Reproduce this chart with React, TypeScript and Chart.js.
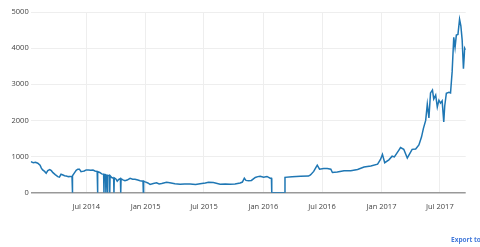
import React, { useEffect, useRef } from "react";
import { Chart, registerables } from "chart.js";

Chart.register(...registerables);

const dates: string[] = [
  "2014-01-10", "2014-01-18", "2014-01-25", "2014-02-01", "2014-02-08", "2014-02-12", "2014-02-16",
  "2014-02-22", "2014-02-27", "2014-03-04", "2014-03-10", "2014-03-15", "2014-03-20", "2014-03-27",
  "2014-04-04", "2014-04-09", "2014-04-14", "2014-04-20", "2014-04-25", "2014-04-30", "2014-05-07",
  "2014-05-12", "2014-05-18", "2014-05-19", "2014-05-20", "2014-05-25", "2014-05-31", "2014-06-05",
  "2014-06-10", "2014-06-15", "2014-06-20", "2014-06-25", "2014-07-01", "2014-07-08", "2014-07-15",
  "2014-07-22", "2014-07-28", "2014-08-04", "2014-08-05", "2014-08-06", "2014-08-12", "2014-08-18",
  "2014-08-24", "2014-08-25", "2014-08-26", "2014-08-30", "2014-08-31", "2014-09-01", "2014-09-04",
  "2014-09-05", "2014-09-06", "2014-09-11", "2014-09-12", "2014-09-13", "2014-09-18", "2014-09-24",
  "2014-09-25", "2014-09-26", "2014-10-01", "2014-10-05", "2014-10-09", "2014-10-15", "2014-10-16",
  "2014-10-17", "2014-10-23", "2014-10-29", "2014-11-05", "2014-11-14", "2014-11-22", "2014-11-29",
  "2014-12-08", "2014-12-15", "2014-12-24", "2014-12-25", "2014-12-26", "2014-12-31", "2015-01-08",
  "2015-01-15", "2015-01-25", "2015-02-04", "2015-02-12", "2015-02-20", "2015-03-07", "2015-03-17",
  "2015-04-02", "2015-04-18", "2015-05-02", "2015-05-19", "2015-06-05", "2015-06-19", "2015-07-05",
  "2015-07-15", "2015-07-30", "2015-08-20", "2015-09-05", "2015-09-20", "2015-10-05", "2015-10-21",
  "2015-10-28", "2015-11-03", "2015-11-08", "2015-11-16", "2015-11-25", "2015-12-07", "2015-12-15",
  "2015-12-22", "2016-01-02", "2016-01-12", "2016-01-22", "2016-01-26", "2016-01-27", "2016-03-07",
  "2016-03-08", "2016-03-30", "2016-04-25", "2016-05-20", "2016-05-26", "2016-06-05", "2016-06-12",
  "2016-06-16", "2016-06-23", "2016-07-06", "2016-07-17", "2016-07-28", "2016-08-02", "2016-08-17",
  "2016-09-07", "2016-09-28", "2016-10-19", "2016-11-08", "2016-11-29", "2016-12-20", "2016-12-29",
  "2017-01-04", "2017-01-11", "2017-01-24", "2017-02-03", "2017-02-10", "2017-02-24", "2017-03-01",
  "2017-03-11", "2017-03-22", "2017-03-27", "2017-04-06", "2017-04-17", "2017-04-27", "2017-05-05",
  "2017-05-11", "2017-05-18", "2017-05-23", "2017-05-28", "2017-06-02", "2017-06-08", "2017-06-12",
  "2017-06-18", "2017-06-23", "2017-06-28", "2017-07-03", "2017-07-08", "2017-07-13", "2017-07-16",
  "2017-07-21", "2017-07-29", "2017-08-03", "2017-08-08", "2017-08-13", "2017-08-17", "2017-08-21",
  "2017-08-26", "2017-08-31", "2017-09-04", "2017-09-08", "2017-09-12", "2017-09-16", "2017-09-19",
];

const prices: number[] = [
  860, 830, 840, 815, 760, 680, 630,
  590, 540, 610, 640, 610, 555, 500,
  445, 430, 510, 490, 470, 460, 445,
  450, 445, 0, 470, 540, 620, 650,
  650, 580, 590, 600, 630, 630, 620,
  625, 600, 585, 0, 585, 560, 520,
  510, 0, 505, 500, 0, 480, 480,
  0, 480, 475, 0, 470, 420, 400,
  0, 410, 380, 320, 360, 390, 0,
  385, 355, 330, 350, 400, 375, 370,
  350, 330, 320, 0, 320, 300, 270,
  230, 255, 275, 240, 255, 290, 275,
  250, 235, 240, 240, 225, 245, 270,
  290, 280, 235, 240, 235, 240, 270,
  295, 400, 340, 330, 340, 420, 445,
  455, 430, 450, 400, 400, 0, 0,
  425, 440, 455, 460, 490, 590, 700,
  760, 650, 670, 670, 650, 560, 575,
  610, 605, 640, 710, 740, 790, 920,
  1060, 830, 910, 1010, 990, 1180, 1250,
  1200, 960, 1040, 1200, 1210, 1320, 1540,
  1780, 2000, 2450, 2070, 2760, 2840, 2590,
  2700, 2370, 2560, 2480, 2540, 1960, 2400,
  2750, 2780, 2760, 3350, 4300, 4020, 4360,
  4380, 4800, 4620, 4230, 3430, 4000, 3950,
];

const tickDates: string[] = [
  "2014-07-01", "2015-01-01", "2015-07-01", "2016-01-01", "2016-07-01", "2017-01-01", "2017-07-01",
];
const tickLabels: string[] = [
  "Jul 2014", "Jan 2015", "Jul 2015", "Jan 2016", "Jul 2016", "Jan 2017", "Jul 2017",
];
const yTicks: number[] = [0, 1000, 2000, 3000, 4000, 5000];

const xStart = "2014-01-10";
const xEnd = "2017-09-19";

const toDay = (s: string) =>
  Date.UTC(+s.slice(0, 4), +s.slice(5, 7) - 1, +s.slice(8, 10)) / 86400000;

const FONT = "'Open Sans', Verdana, Arial, sans-serif";

export default function App() {
  const ref = useRef<HTMLCanvasElement | null>(null);

  useEffect(() => {
    if (!ref.current) return;
    const tickDays = tickDates.map(toDay);
    const chart = new Chart(ref.current, {
      type: "line",
      data: {
        datasets: [
          {
            data: dates.map((d, i) => ({ x: toDay(d), y: prices[i] })),
            borderColor: "#1f77b4",
            borderWidth: 1.5,
            pointRadius: 0,
            tension: 0,
            fill: false,
          },
        ],
      },
      options: {
        animation: false,
        responsive: false,
        devicePixelRatio: 1,
        layout: { padding: { top: 12, right: 14.3, left: 0, bottom: 0 } },
        plugins: { legend: { display: false }, tooltip: { enabled: false } },
        scales: {
          x: {
            type: "linear",
            min: toDay(xStart),
            max: toDay(xEnd),
            afterBuildTicks: (axis: any) => {
              axis.ticks = tickDays.map((v) => ({ value: v }));
            },
            afterFit: (s: any) => {
              s.height = 54.3;
            },
            ticks: {
              autoSkip: false,
              maxRotation: 0,
              padding: 10,
              color: "#444",
              font: { family: FONT, size: 7.5 },
              callback: (v: any) => {
                const i = tickDays.indexOf(Number(v));
                return i >= 0 ? tickLabels[i] : "";
              },
            },
            grid: { color: "#eeeeee", lineWidth: 1, drawTicks: false },
            border: { display: false },
          },
          y: {
            min: 0,
            max: 5000,
            afterBuildTicks: (axis: any) => {
              axis.ticks = yTicks.map((v) => ({ value: v }));
            },
            afterFit: (s: any) => {
              s.width = 30.7;
            },
            ticks: {
              padding: 2,
              color: "#444",
              font: { family: FONT, size: 7.5 },
              callback: (v: any) => String(v),
            },
            grid: {
              drawTicks: false,
              color: (ctx: any) => (ctx.tick && ctx.tick.value === 0 ? "#999999" : "#eeeeee"),
              lineWidth: (ctx: any) => (ctx.tick && ctx.tick.value === 0 ? 1.5 : 1),
            },
            border: { display: false },
          },
        },
      },
    });
    return () => chart.destroy();
  }, []);

  return (
    <div
      style={{
        position: "absolute",
        left: 0,
        top: 0,
        width: 480,
        height: 247,
        overflow: "hidden",
        background: "#fff",
      }}
    >
      <canvas ref={ref} width={480} height={247} style={{ display: "block" }} />
      <div
        style={{
          position: "absolute",
          left: 451,
          top: 235,
          fontFamily: FONT,
          fontSize: 6.5,
          fontWeight: 700,
          color: "#447adb",
          whiteSpace: "nowrap",
          lineHeight: "10px",
        }}
      >
        Export to plot.ly »
      </div>
    </div>
  );
}
